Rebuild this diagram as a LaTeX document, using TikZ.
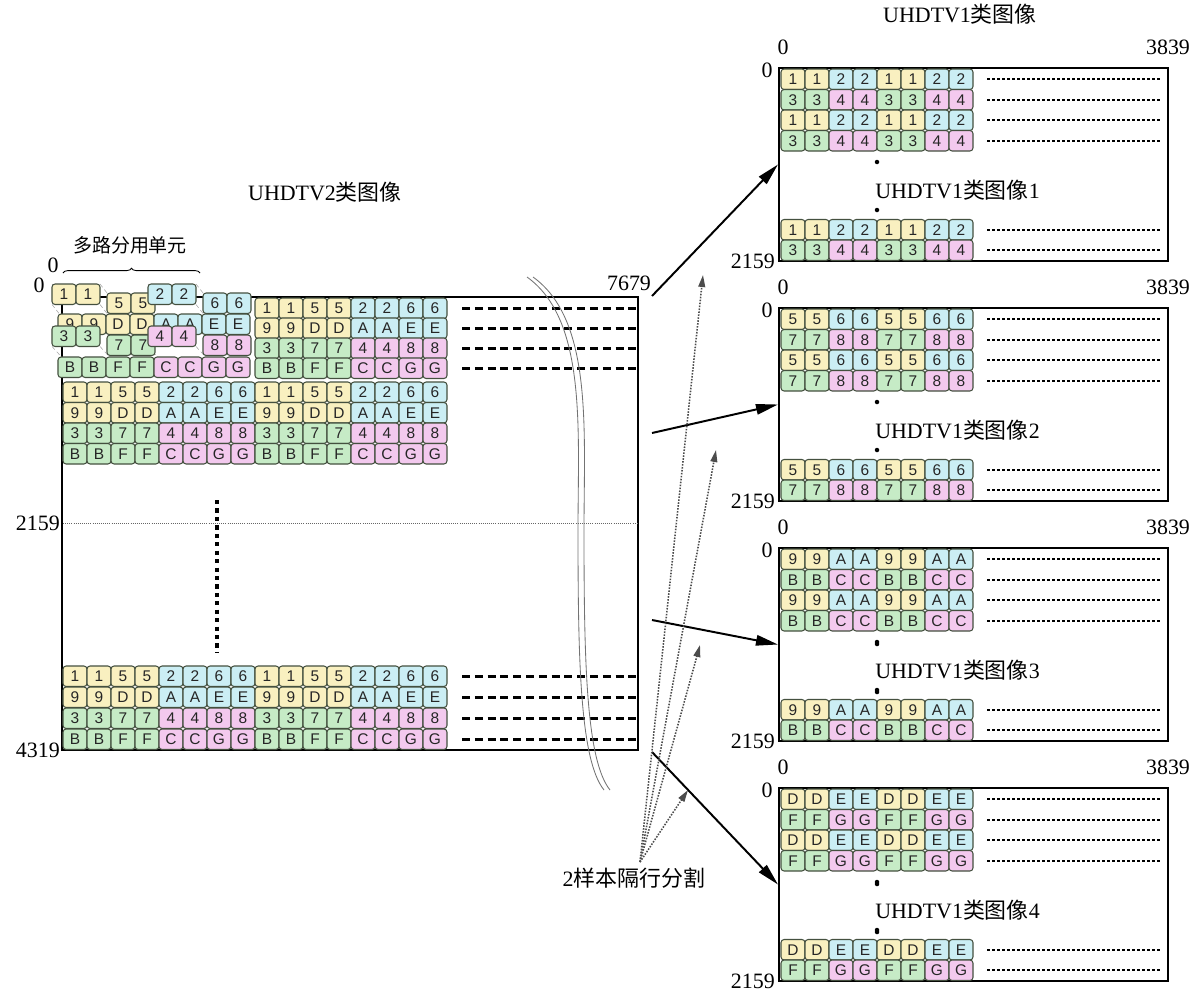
\documentclass[tikz,border=0pt]{standalone}
\usepackage{fontspec}
\setmainfont{Liberation Serif}
\newfontfamily\cjk{Noto Sans CJK SC}
\newfontfamily\cellfont{Liberation Sans}
\usetikzlibrary{arrows.meta,decorations.pathreplacing}

\definecolor{yel}{HTML}{F9F0C0}
\definecolor{cya}{HTML}{CBEEF4}
\definecolor{grn}{HTML}{C6EBC6}
\definecolor{pnk}{HTML}{F3C9EE}
\definecolor{edge}{HTML}{44503F}

% eight cells: l1 l1 l2 l2 (left colour) l3 l3 l4 l4 (right colour)
\newcommand{\bigrow}[9]{%
  \foreach \lab/\col [count=\ci from 0] in {#4/#8,#4/#8,#5/#8,#5/#8,#6/#9,#6/#9,#7/#9,#7/#9}
    \node[cell, fill=\col] (#1-\ci) at (#2+12+24*\ci,#3+10.25) {\lab};}
% two cells of a moved piece
\newcommand{\cellpair}[5]{%
  \node[cell, fill=#5] (#1-0) at (#2+12,#3+10.25) {#4};
  \node[cell, fill=#5] (#1-1) at (#2+36,#3+10.25) {#4};}
% eight cells of a UHDTV1 row
\newcommand{\smallrow}[6]{%
  \foreach \lab/\col [count=\ci from 0] in {#3/#5,#3/#5,#4/#6,#4/#6,#3/#5,#3/#5,#4/#6,#4/#6}
    \node[cell, fill=\col] (#1-\ci) at (793+24*\ci,#2+10.25) {\lab};}
\newcommand{\ghostlink}[4]{%
  \draw[ghost] (#1,#2) -- (#3,#4) (#1+48,#2) -- (#3+48,#4)
    (#1,#2+20.5) -- (#3,#4+20.5) (#1+48,#2+20.5) -- (#3+48,#4+20.5);}

\begin{document}
\begin{tikzpicture}[x=0.025cm, y=-0.025cm,
  cell/.style={draw=edge, line width=0.75pt, rounded corners=2.2pt, minimum width=0.6cm,
    minimum height=0.5125cm, inner sep=0pt, outer sep=0pt,
    font=\cellfont\fontsize{11}{11}\selectfont, text=black!85},
  img/.style={draw, line width=1.4pt, minimum width=9.725cm, minimum height=4.825cm, inner sep=0pt},
  lbl/.style={font=\fontsize{15.6}{18}\selectfont, inner sep=0pt},
  bigdash/.style={line width=1.9pt, dash pattern=on 0.2cm off 0.12cm},
  smalldash/.style={line width=1.1pt, dash pattern=on 0.075cm off 0.05cm},
  go/.style={line width=1.4pt, -{Triangle[length=0.55cm,width=0.26cm]}},
  hint/.style={densely dotted, line width=1.1pt, black!70, -{Triangle[length=0.3cm,width=0.17cm]}},
  ghost/.style={black!35, line width=0.4pt, densely dashed}]
  \useasboundingbox (0,0) rectangle (1201,994);

  % UHDTV2 picture
  \node[draw, line width=1.4pt, minimum width=14.4cm, minimum height=11.325cm, inner sep=0pt] (uhd2) at (350,523.5) {};
  \draw[densely dotted, black!60, line width=0.5pt] (63,523) -- (637,523);
  \node[lbl] (t2) at (325,192) {UHDTV2{\cjk 类图像}};
  \node[lbl, font=\fontsize{13.5}{16}\selectfont] (mux) at (130,245) {\cjk 多路分用单元};
  \draw[line width=0.6pt, decorate, decoration={brace, amplitude=0.12cm}] (63,273) -- (200,273);
  \node[lbl] (x0) at (53,265) {0};
  \node[lbl] (y0) at (39,285) {0};
  \node[lbl, anchor=east] (ymid) at (60,523) {2159};
  \node[lbl, anchor=east] (yend) at (60,750) {4319};
  \node[lbl] (xend) at (629,283) {7679};

  \ghostlink{52}{284}{63}{298}
  \ghostlink{148}{284}{159}{298}
  \ghostlink{52}{326}{63}{338}
  \ghostlink{148}{326}{159}{338}
  \bigrow{a2}{58}{314}{9}{D}{A}{E}{yel}{cya}
  \bigrow{a4}{58}{357}{B}{F}{C}{G}{grn}{pnk}
  \cellpair{m5}{107}{293}{5}{yel}
  \cellpair{m6}{203}{293}{6}{cya}
  \cellpair{m1}{52}{284}{1}{yel}
  \cellpair{m2}{148}{284}{2}{cya}
  \cellpair{m7}{107}{335}{7}{grn}
  \cellpair{m8}{203}{335}{8}{pnk}
  \cellpair{m3}{52}{326}{3}{grn}
  \cellpair{m4}{148}{326}{4}{pnk}
  \bigrow{b1}{255}{298}{1}{5}{2}{6}{yel}{cya}
  \bigrow{b2}{255}{318}{9}{D}{A}{E}{yel}{cya}
  \bigrow{b3}{255}{338}{3}{7}{4}{8}{grn}{pnk}
  \bigrow{b4}{255}{358}{B}{F}{C}{G}{grn}{pnk}
  \foreach \x/\s in {63/l,255/r}{
    \bigrow{c1\s}{\x}{382}{1}{5}{2}{6}{yel}{cya}
    \bigrow{c2\s}{\x}{402.5}{9}{D}{A}{E}{yel}{cya}
    \bigrow{c3\s}{\x}{423}{3}{7}{4}{8}{grn}{pnk}
    \bigrow{c4\s}{\x}{443.5}{B}{F}{C}{G}{grn}{pnk}
    \bigrow{d1\s}{\x}{666}{1}{5}{2}{6}{yel}{cya}
    \bigrow{d2\s}{\x}{687}{9}{D}{A}{E}{yel}{cya}
    \bigrow{d3\s}{\x}{708}{3}{7}{4}{8}{grn}{pnk}
    \bigrow{d4\s}{\x}{729}{B}{F}{C}{G}{grn}{pnk}
  }
  \foreach \y in {308.25,328.25,348.25,368.25,676.25,697.25,718.25,739.25}
    \draw[bigdash] (462,\y) -- (636,\y);
  \draw[line width=3pt, dash pattern=on 3pt off 3pt] (217,500) -- (217,652);

  % double curve
  \draw[black!55, line width=0.6pt] (527,277) .. controls (587,320) and (578,430) .. (578,530)
    .. controls (578,660) and (580,760) .. (604,790);
  \draw[black!55, line width=0.6pt, xshift=0.15cm] (527,277) .. controls (587,320) and (578,430) .. (578,530)
    .. controls (578,660) and (580,760) .. (604,790);

  % UHDTV1 pictures
  \node[lbl] (t1) at (960,14) {UHDTV1{\cjk 类图像}};
  \foreach \i/\a/\b/\c/\d in {1/1/2/3/4, 2/5/6/7/8, 3/9/A/B/C, 4/D/E/F/G}{
    \pgfmathsetmacro\T{68+240*(\i-1)}
    \node[img] (img\i) at (973.5,\T+96.5) {};
    \smallrow{p\i-1}{\T+1}{\a}{\b}{yel}{cya}
    \smallrow{p\i-2}{\T+21.5}{\c}{\d}{grn}{pnk}
    \smallrow{p\i-3}{\T+42}{\a}{\b}{yel}{cya}
    \smallrow{p\i-4}{\T+62.5}{\c}{\d}{grn}{pnk}
    \smallrow{p\i-5}{\T+151.5}{\a}{\b}{yel}{cya}
    \smallrow{p\i-6}{\T+172}{\c}{\d}{grn}{pnk}
    \foreach \y in {11.25,31.75,52.25,72.75,161.75,182.25}
      \draw[smalldash] (987,\T+\y) -- (1160,\T+\y);
    \fill (877,\T+94) circle (1.6pt) (877,\T+142) circle (1.6pt);
    \node[lbl] (x0-\i) at (783,\T-21) {0};
    \node[lbl] (xe-\i) at (1168,\T-21) {3839};
    \node[lbl] (y0-\i) at (767,\T+2) {0};
    \node[lbl, anchor=east] (ye-\i) at (775,\T+193) {2159};
    \node[lbl, anchor=west] (name-\i) at (875,\T+122) {UHDTV1{\cjk 类图像}\i};
  }
  \fill (877,644) circle (1.6pt) (877,692) circle (1.6pt) (877,884) circle (1.6pt) (877,932) circle (1.6pt);

  % arrows
  \coordinate (s1) at (652,296);
  \coordinate (s2) at (652,433);
  \coordinate (s3) at (652,620);
  \coordinate (s4) at (652,752);
  \draw[go] (s1) -- (img1.west);
  \draw[go] (s2) -- (img2.west);
  \draw[go] (s3) -- (img3.west);
  \draw[go] (s4) -- (img4.west);

  \node[lbl] (splitlab) at (634,878) {2{\cjk 样本隔行分割}};
  \coordinate (src) at (640,862);
  \coordinate (d1) at (703,275);
  \coordinate (d2) at (716,450);
  \coordinate (d3) at (700,645);
  \coordinate (d4) at (688,790);
  \foreach \t in {d1,d2,d3,d4}
    \draw[hint] (src) -- (\t);
\end{tikzpicture}
\end{document}
